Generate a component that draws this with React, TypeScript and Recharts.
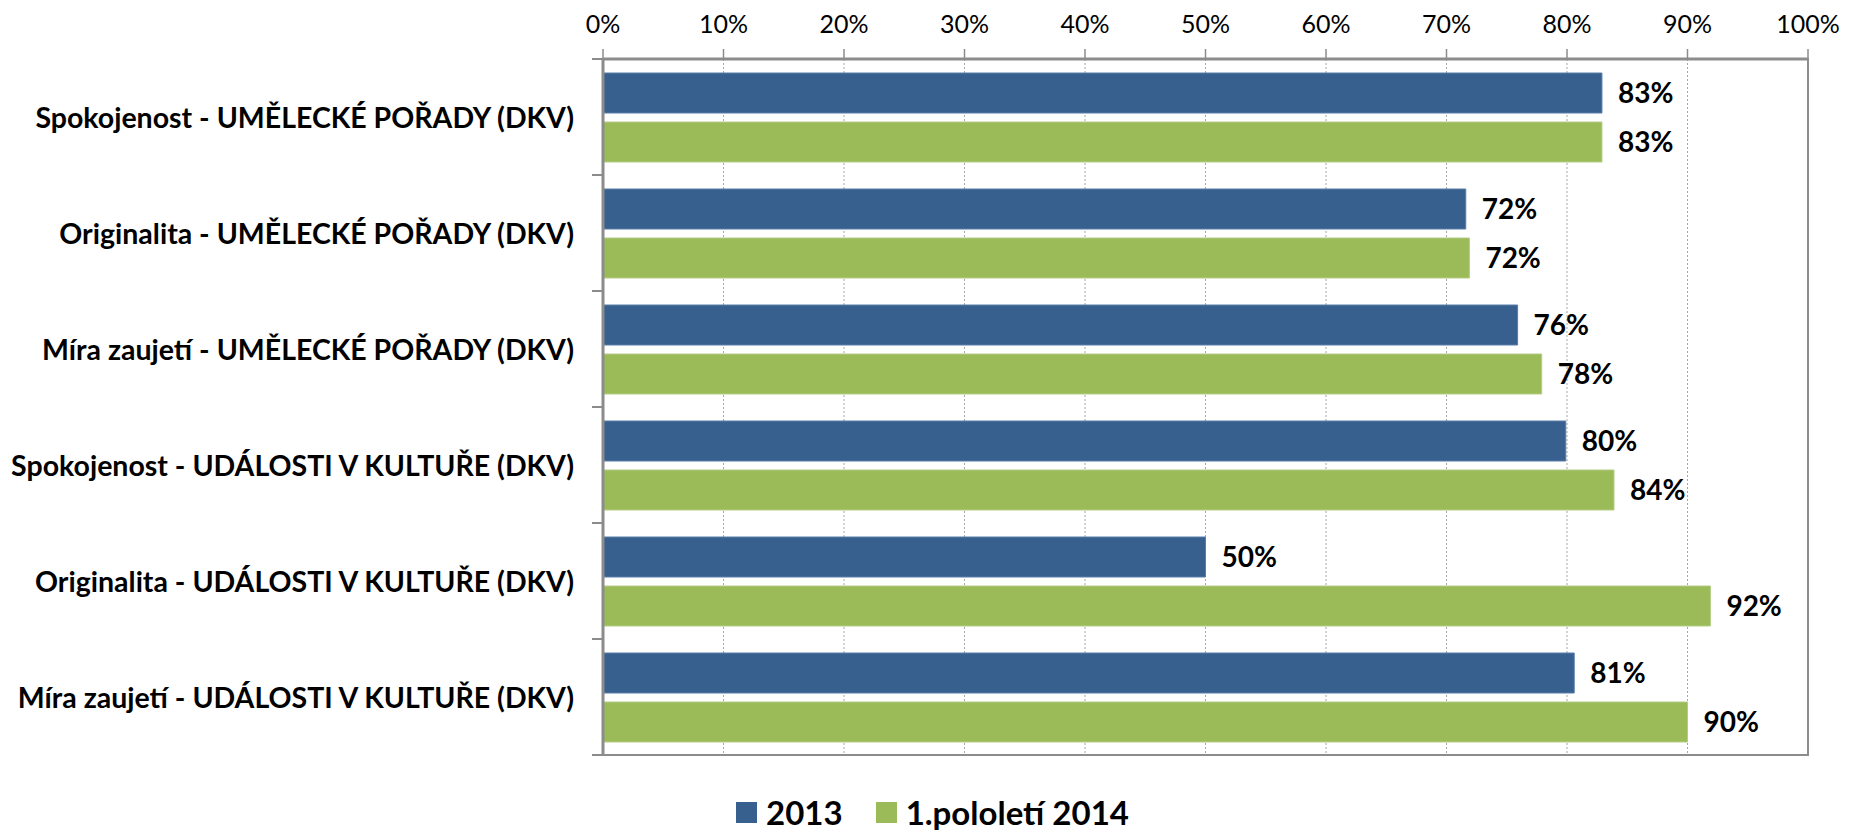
import { BarChart, Bar, XAxis, YAxis, CartesianGrid, Legend, LabelList, ReferenceArea } from 'recharts';

const categories = [
  'Spokojenost - UMĚLECKÉ POŘADY (DKV)',
  'Originalita - UMĚLECKÉ POŘADY (DKV)',
  'Míra zaujetí - UMĚLECKÉ POŘADY (DKV)',
  'Spokojenost - UDÁLOSTI V KULTUŘE (DKV)',
  'Originalita - UDÁLOSTI V KULTUŘE (DKV)',
  'Míra zaujetí - UDÁLOSTI V KULTUŘE (DKV)',
];
const values2013 = [82.9, 71.6, 75.9, 79.9, 50.0, 80.6];
const values2014 = [82.9, 71.9, 77.9, 83.9, 91.9, 90.0];
const xTicks = [0, 10, 20, 30, 40, 50, 60, 70, 80, 90, 100];
const seriesNames = ['2013', '1.pololetí 2014'];

const BLUE = '#37608F';
const GREEN = '#9BBB59';
const AXIS = '#8C8C8C';
const FONT = 'Lato, "DejaVu Sans", sans-serif';

const data = categories.map((name, i) => ({ name, a: values2013[i], b: values2014[i] }));

// category label plus boundary ticks (Excel puts the ticks between categories)
function CategoryTick(props: any) {
  const { x, y, payload, index } = props;
  const half = payload && payload.offset ? payload.offset : 58;
  return (
    <g>
      <text
        x={x - 29}
        y={y}
        textAnchor="end"
        dominantBaseline="central"
        fontFamily={FONT}
        fontWeight={700}
        fontSize={28.5}
        fill="#000"
      >
        {payload.value}
      </text>
      {index === 0 && <line x1={x - 11} x2={x} y1={y - half} y2={y - half} stroke={AXIS} strokeWidth={2} />}
      <line x1={x - 11} x2={x} y1={y + half} y2={y + half} stroke={AXIS} strokeWidth={2} />
    </g>
  );
}

function LegendContent() {
  const colors = [BLUE, GREEN];
  return (
    <div
      style={{
        display: 'flex',
        justifyContent: 'center',
        alignItems: 'center',
        paddingTop: 37,
        paddingLeft: 10,
        fontFamily: FONT,
        fontWeight: 700,
        fontSize: 33,
        color: '#000',
      }}
    >
      {seriesNames.map((s, i) => (
        <div key={s} style={{ display: 'flex', alignItems: 'center', marginRight: i === 0 ? 33 : 0 }}>
          <span style={{ width: 21, height: 21, background: colors[i], marginRight: 9, display: 'inline-block' }} />
          <span style={{ lineHeight: '40px' }}>{s}</span>
        </div>
      ))}
    </div>
  );
}

export default function App() {
  return (
    <div>
      <style>{'body{margin:0}'}</style>
      <BarChart
        width={1855}
        height={835}
        data={data}
        layout="vertical"
        margin={{ top: 0, right: 47, bottom: 0, left: 0 }}
        barSize={40}
        barGap={9}
      >
        <CartesianGrid vertical horizontal={false} stroke="#A6A6A6" strokeDasharray="2 2" />
        <ReferenceArea x1={0} x2={100} fill="none" stroke={AXIS} strokeWidth={2} ifOverflow="visible" />
        <XAxis
          type="number"
          orientation="top"
          domain={[0, 100]}
          ticks={xTicks}
          height={59}
          tickSize={10}
          tickMargin={16}
          tickFormatter={(v: number) => `${v}%`}
          tick={{ fontFamily: FONT, fontSize: 25, fill: '#000' }}
          axisLine={{ stroke: AXIS, strokeWidth: 3 }}
          tickLine={{ stroke: AXIS, strokeWidth: 1.5 }}
          interval={0}
        />
        <YAxis
          type="category"
          dataKey="name"
          width={603}
          tickSize={0}
          tickMargin={0}
          tickLine={false}
          axisLine={{ stroke: AXIS, strokeWidth: 3 }}
          tick={<CategoryTick />}
          interval={0}
        />
        <Legend verticalAlign="bottom" height={80} content={<LegendContent />} wrapperStyle={{ left: 0, width: 1855 }} />
        <Bar dataKey="a" name={seriesNames[0]} fill={BLUE} stroke="#5A7DAA" strokeWidth={1} isAnimationActive={false}>
          <LabelList
            dataKey="a"
            position="right"
            offset={16}
            formatter={(v: any) => `${Math.round(Number(v))}%`}
            style={{ fontFamily: FONT, fontWeight: 700, fontSize: 28, fill: '#000' }}
          />
        </Bar>
        <Bar dataKey="b" name={seriesNames[1]} fill={GREEN} stroke="#B5CC86" strokeWidth={1} isAnimationActive={false}>
          <LabelList
            dataKey="b"
            position="right"
            offset={16}
            formatter={(v: any) => `${Math.round(Number(v))}%`}
            style={{ fontFamily: FONT, fontWeight: 700, fontSize: 28, fill: '#000' }}
          />
        </Bar>
      </BarChart>
    </div>
  );
}
